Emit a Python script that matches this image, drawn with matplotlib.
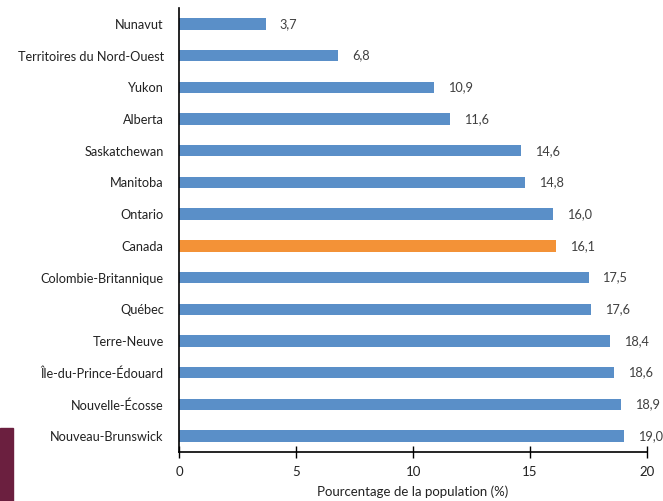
import matplotlib
matplotlib.use("Agg")
import matplotlib.pyplot as plt
from matplotlib.patches import Rectangle

# provinces / territoires, du haut vers le bas
provinces = ["Nunavut", "Territoires du Nord-Ouest", "Yukon", "Alberta",
             "Saskatchewan", "Manitoba", "Ontario", "Canada",
             "Colombie-Britannique", "Québec", "Terre-Neuve",
             "Île-du-Prince-Édouard", "Nouvelle-Écosse", "Nouveau-Brunswick"]
valeurs = [3.7, 6.8, 10.9, 11.6, 14.6, 14.8, 16.0, 16.1,
           17.5, 17.6, 18.4, 18.6, 18.9, 19.0]
xticks = [0, 5, 10, 15, 20]

plt.rcParams["font.family"] = ["Lato", "DejaVu Sans"]

fig = plt.figure(figsize=(6.63, 5.01), dpi=100)
ax = fig.add_axes([0.270, 0.098, 0.706, 0.886])

couleurs = ["#F39237" if p == "Canada" else "#5A8FC8" for p in provinces]
pos = list(range(len(provinces)))
ax.barh(pos, valeurs, height=0.36, color=couleurs)

for y, v in zip(pos, valeurs):
    ax.annotate(f"{v:.1f}".replace(".", ","), (v, y), xytext=(10, 0),
                textcoords="offset points", va="center", ha="left",
                fontsize=9.2, color="#404040")

ax.set_ylim(len(provinces) - 0.5, -0.5)
ax.set_xlim(0, 20)
ax.set_yticks(pos)
ax.set_yticklabels(provinces, fontsize=9.2, color="#222222")
ax.set_xticks(xticks)
ax.set_xticklabels([str(t) for t in xticks], fontsize=9.5, color="#222222")
ax.tick_params(axis="y", length=0, pad=11)
ax.tick_params(axis="x", direction="inout", length=9, width=1, pad=6)
ax.set_xlabel("Pourcentage de la population (%)", fontsize=9.5, color="#222222", labelpad=5)

for s in ["top", "right"]:
    ax.spines[s].set_visible(False)
ax.spines["left"].set_linewidth(1.2)
ax.spines["bottom"].set_linewidth(1.2)

# bande décorative en bas à gauche
fig.patches.append(Rectangle((0, 0), 13 / 663, 73 / 501, transform=fig.transFigure,
                             color="#6B1F3F", zorder=0))

fig.savefig("out.png", dpi=100)
